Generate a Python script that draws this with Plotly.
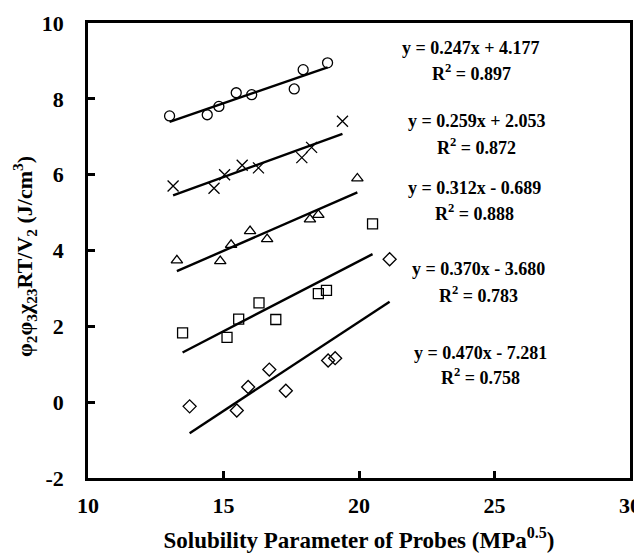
import plotly.graph_objects as go

# Data
circle_x = [13.01, 14.40, 14.83, 15.47, 16.04, 17.61, 17.94, 18.84]
circle_y = [7.55, 7.58, 7.80, 8.16, 8.11, 8.26, 8.77, 8.95]

cross_x = [13.14, 14.65, 15.04, 15.69, 16.29, 17.89, 18.25, 19.39]
cross_y = [5.70, 5.64, 6.00, 6.25, 6.18, 6.45, 6.72, 7.41]

tri_x = [13.28, 14.88, 15.28, 15.98, 16.61, 18.19, 18.50, 19.94]
tri_y = [3.74, 3.72, 4.15, 4.51, 4.30, 4.82, 4.94, 5.90]

sq_x = [13.49, 15.13, 15.56, 16.31, 16.93, 18.50, 18.80, 20.50]
sq_y = [1.83, 1.71, 2.19, 2.62, 2.18, 2.86, 2.95, 4.70]

dia_x = [13.75, 15.49, 15.91, 16.69, 17.30, 18.86, 19.12, 21.13]
dia_y = [-0.11, -0.22, 0.40, 0.86, 0.30, 1.10, 1.16, 3.77]

slopes = [0.247, 0.259, 0.312, 0.370, 0.470]
intercepts = [4.177, 2.053, -0.689, -3.680, -7.281]
r2_values = [0.897, 0.872, 0.888, 0.783, 0.758]
eq_labels = ["y = 0.247x + 4.177", "y = 0.259x + 2.053", "y = 0.312x - 0.689",
             "y = 0.370x - 3.680", "y = 0.470x - 7.281"]
r2_labels = ["R<sup>2</sup> = 0.897", "R<sup>2</sup> = 0.872", "R<sup>2</sup> = 0.888",
             "R<sup>2</sup> = 0.783", "R<sup>2</sup> = 0.758"]

x_ticks = [10, 15, 20, 25, 30]
y_ticks = [-2, 0, 2, 4, 6, 8, 10]

x_title = "<b>Solubility Parameter of Probes (MPa<sup>0.5</sup>)</b>"
y_title = "<b>φ<sub>2</sub>φ<sub>3</sub>χ<sub>23</sub>RT/V<sub>2</sub> (J/cm<sup>3</sup>)</b>"

series = [
    (circle_x, circle_y, "circle-open"),
    (cross_x, cross_y, "x-thin-open"),
    (tri_x, tri_y, "triangle-up-open"),
    (sq_x, sq_y, "square-open"),
    (dia_x, dia_y, "diamond-open"),
]

FONT = "Liberation Serif"
fig = go.Figure()

for i, (xs, ys, sym) in enumerate(series):
    fig.add_trace(go.Scatter(
        x=xs, y=ys, mode="markers",
        marker=dict(symbol=sym, size=10 if sym != "x-thin-open" else 11,
                    color="black", line=dict(color="black", width=1.3)),
        showlegend=False))
    x0, x1 = min(xs), max(xs)
    fig.add_trace(go.Scatter(
        x=[x0, x1], y=[slopes[i] * x0 + intercepts[i], slopes[i] * x1 + intercepts[i]],
        mode="lines", line=dict(color="black", width=2.4), showlegend=False))

# annotation positions (data coords)
ann_x = [24.15, 24.34, 24.26, 24.41, 24.48]
ann_eq_y = [9.35, 7.41, 5.65, 3.50, 1.31]
ann_r2_y = [8.69, 6.74, 4.99, 2.85, 0.67]
for i in range(5):
    fig.add_annotation(x=ann_x[i], y=ann_eq_y[i], text="<b>%s</b>" % eq_labels[i],
                       showarrow=False, font=dict(family=FONT, size=18, color="black"))
    fig.add_annotation(x=ann_x[i], y=ann_r2_y[i], text="<b>%s</b>" % r2_labels[i],
                       showarrow=False, font=dict(family=FONT, size=18, color="black"))

# y-axis title as rotated annotation
fig.add_annotation(xref="paper", yref="paper", x=-0.1162, y=0.486, text=y_title,
                   textangle=-90, showarrow=False, xanchor="center", yanchor="middle",
                   font=dict(family=FONT, size=22, color="black"))

axis_common = dict(showline=True, linewidth=2.5, linecolor="black", mirror=True,
                   ticks="inside", ticklen=7, tickwidth=2.5, tickcolor="black",
                   showgrid=False, zeroline=False, automargin=False,
                   tickfont=dict(family=FONT, size=22, color="black"))

fig.update_xaxes(range=[10, 30], tickvals=x_ticks,
                 ticktext=["<b>%d</b>" % v for v in x_ticks],
                 ticklabelstandoff=6, ticklabeloverflow="allow",
                 title=dict(text=x_title,
                            font=dict(family=FONT, size=23, color="black"), standoff=15),
                 **axis_common)
fig.update_yaxes(range=[-2, 10], tickvals=y_ticks,
                 ticktext=["<b>%d</b>" % v for v in y_ticks],
                 ticklabelstandoff=17,
                 **axis_common)

# page body has an 8px margin: figure sized/margined to land at the reference spots
fig.update_layout(width=634, height=551, margin=dict(l=80, r=12, t=15, b=81),
                  plot_bgcolor="white", paper_bgcolor="white")

fig.write_html("out.html")
